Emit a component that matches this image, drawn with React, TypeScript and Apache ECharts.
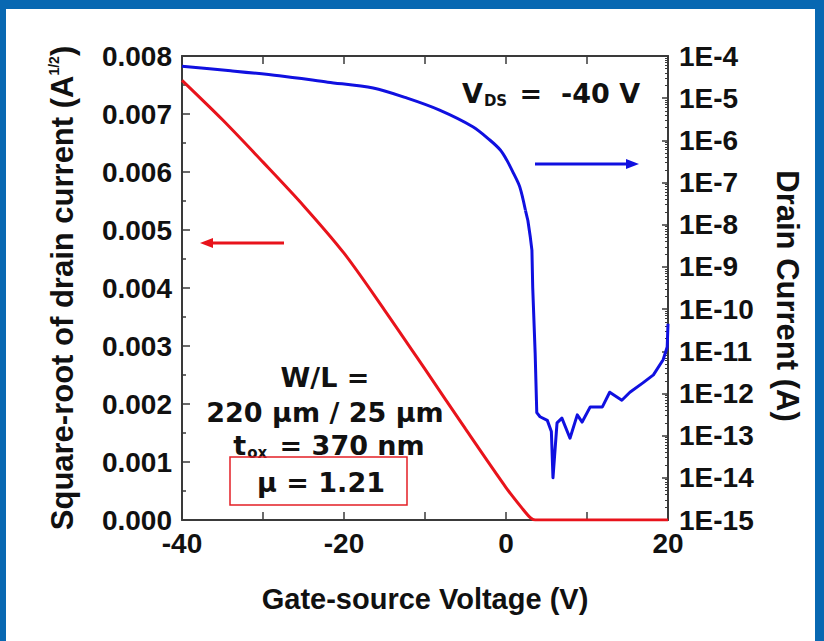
import React, { useEffect, useRef } from "react";
import * as echarts from "echarts";

// Gate-source voltage (V) and sqrt(drain current) (A^1/2) – red, left axis
const redVg = [-40, -35, -30, -25, -20, -15, -10, -5, 0, 2, 3, 3.6, 10, 20];
const redSqrtId = [0.00758, 0.0069, 0.00617, 0.00542, 0.0046, 0.00362, 0.0026, 0.00157, 0.00056, 0.0002, 0.00004, 0, 0, 0];

// Gate-source voltage (V) and drain current (A) – blue, right log axis
const blueVg = [-40, -34, -28, -22, -16.4, -12.2, -8.2, -4.1, -2.0, -0.7, 0.1, 0.9, 1.7, 2.4, 2.7, 3.0, 3.2, 3.3, 3.6, 3.8, 4.2, 5.1, 5.6, 5.8, 6.3, 6.9, 7.9, 8.8, 9.4, 10.4, 11.9, 12.8, 14.3, 15.3, 16.9, 18.2, 19.4, 19.9, 20];
const blueId = [5.75e-5, 4.47e-5, 3.39e-5, 2.4e-5, 1.74e-5, 1.0e-5, 5.2e-6, 2.1e-6, 1.02e-6, 5.9e-7, 3.4e-7, 1.7e-7, 7.9e-8, 2.2e-8, 1.26e-8, 5.1e-9, 2.5e-9, 3.2e-10, 8.9e-12, 3.5e-13, 2.8e-13, 2.3e-13, 1.25e-13, 1.0e-14, 2.0e-13, 2.6e-13, 8.7e-14, 3.1e-13, 2.1e-13, 4.8e-13, 4.8e-13, 1.07e-12, 6.9e-13, 1.07e-12, 1.78e-12, 2.75e-12, 6.3e-12, 1.26e-11, 4.5e-11];
// index where the smooth on-state part ends and the noisy off-state part begins
const blueSplit = 13;

// Axis ranges / tick labels
const xMin = -40, xMax = 20, xStep = 10;
const leftMax = 0.008, leftStep = 0.001;
const logMin = 1e-15, logMax = 1e-4;

const AXIS_FONT = "'Liberation Sans', Arial, sans-serif";
const NOTE_FONT = "'DejaVu Sans', Verdana, sans-serif";
const AXIS_COLOR = "#3a3a3a";
const TEXT = "#111111";
const RED = "#E8131B";
const BLUE = "#1010E0";

export default function App() {
  const ref = useRef<HTMLDivElement>(null);
  useEffect(() => {
    if (!ref.current) return;
    const chart = echarts.init(ref.current, null, { renderer: "svg" });
    const red = redVg.map((v, i) => [v, redSqrtId[i]]);
    const blue = blueVg.map((v, i) => [v, blueId[i]]);
    const blueOn = blue.slice(0, blueSplit + 1);
    const blueOff = blue.slice(blueSplit);
    const axisLine = { show: true, onZero: false, lineStyle: { color: AXIS_COLOR, width: 2 } };
    const tickStyle = { color: AXIS_COLOR, width: 1.5 };
    const labelStyle = { fontSize: 28, fontWeight: "bold", color: TEXT, fontFamily: AXIS_FONT };
    const noteN = { fontSize: 27, fontWeight: "bold", fontFamily: NOTE_FONT, fill: TEXT };
    const noteS = { fontSize: 15, fontWeight: "bold", fontFamily: NOTE_FONT, fill: TEXT, verticalAlign: "bottom", padding: [15, 3, 0, 1] };
    chart.setOption({
      animation: false,
      backgroundColor: "#ffffff",
      grid: { left: 182, right: 156, top: 56, bottom: 121, containLabel: false },
      xAxis: [
        {
          type: "value", min: xMin, max: xMax, interval: xStep, position: "bottom",
          axisLine, splitLine: { show: false },
          axisTick: { inside: true, length: 8, lineStyle: tickStyle },
          axisLabel: { ...labelStyle, formatter: (v: number) => (v % 20 === 0 ? String(v) : ""), margin: 9 },
          name: "Gate-source Voltage (V)", nameLocation: "middle", nameGap: 64,
          nameTextStyle: { fontSize: 29, fontWeight: "bold", color: TEXT, fontFamily: AXIS_FONT },
        },
        {
          type: "value", min: xMin, max: xMax, interval: xStep, position: "top",
          axisLine, splitLine: { show: false },
          axisTick: { inside: true, length: 8, lineStyle: tickStyle },
          axisLabel: { show: false },
        },
      ],
      yAxis: [
        {
          type: "value", min: 0, max: leftMax, interval: leftStep, position: "left",
          axisLine, splitLine: { show: false },
          axisTick: { inside: true, length: 8, lineStyle: tickStyle },
          minorTick: { show: true, splitNumber: 2, length: 4, lineStyle: tickStyle },
          axisLabel: { ...labelStyle, formatter: (v: number) => v.toFixed(3), margin: 10 },
          name: "Square-root of drain current (A{sup|1/2})",
          nameLocation: "middle", nameGap: 104,
          nameTextStyle: {
            fontSize: 31, fontWeight: "bold", color: TEXT, fontFamily: AXIS_FONT,
            rich: { sup: { fontSize: 14, fontWeight: "bold", color: TEXT, fontFamily: AXIS_FONT, verticalAlign: "top", padding: [0, 0, 16, 0] } },
          },
        },
        {
          type: "log", logBase: 10, min: logMin, max: logMax, interval: 1, splitNumber: 11, position: "right",
          axisLine, splitLine: { show: false },
          axisTick: { inside: true, length: 6, lineStyle: tickStyle },
          minorTick: { show: true, splitNumber: 9, length: 3, lineStyle: { color: AXIS_COLOR, width: 1 } },
          axisLabel: { ...labelStyle, formatter: (v: number) => "1E" + Math.round(Math.log10(v)), margin: 11 },
          name: "Drain Current (A)", nameLocation: "middle", nameGap: 104, nameRotate: -90,
          nameTextStyle: { fontSize: 31, fontWeight: "bold", color: TEXT, fontFamily: AXIS_FONT, padding: [0, 0, 0, 16] },
        },
      ],
      series: [
        {
          type: "line", name: "sqrt", xAxisIndex: 0, yAxisIndex: 0, data: red,
          showSymbol: false, smooth: 0.3, lineStyle: { color: RED, width: 3 }, z: 3,
        },
        {
          type: "line", name: "Id on", xAxisIndex: 0, yAxisIndex: 1, data: blueOn,
          showSymbol: false, smooth: 0.3, lineStyle: { color: BLUE, width: 3 }, z: 4,
        },
        {
          type: "line", name: "Id off", xAxisIndex: 0, yAxisIndex: 1, data: blueOff,
          showSymbol: false, smooth: false, lineStyle: { color: BLUE, width: 3, join: "round" }, z: 4,
        },
      ],
      graphic: [
        { type: "rect", shape: { x: 0, y: 0, width: 824, height: 9 }, style: { fill: "#0868B2" }, z: 100 },
        { type: "rect", shape: { x: 0, y: 0, width: 6, height: 641 }, style: { fill: "#0868B2" }, z: 100 },
        { type: "rect", shape: { x: 815, y: 0, width: 9, height: 641 }, style: { fill: "#0868B2" }, z: 100 },
        // red arrow (left)
        { type: "line", shape: { x1: 284, y1: 243, x2: 208, y2: 243 }, style: { stroke: RED, lineWidth: 3 }, z: 50 },
        { type: "polygon", shape: { points: [[200, 243], [213, 238], [213, 248]] }, style: { fill: RED }, z: 50 },
        // blue arrow (right)
        { type: "line", shape: { x1: 535, y1: 164, x2: 628, y2: 164 }, style: { stroke: BLUE, lineWidth: 3 }, z: 50 },
        { type: "polygon", shape: { points: [[639, 164], [626, 159], [626, 169]] }, style: { fill: BLUE }, z: 50 },
        {
          type: "text", x: 462, y: 93, z: 50,
          style: { text: "{n|V}{s|DS}{n| =  -40 V}", verticalAlign: "middle", align: "left", rich: { n: noteN, s: noteS } },
        },
        { type: "text", x: 325, y: 377, z: 50, style: { text: "W/L =", font: `bold 27px ${NOTE_FONT}`, fill: TEXT, align: "center", verticalAlign: "middle" } },
        { type: "text", x: 325, y: 412, z: 50, style: { text: "220 µm / 25 µm", font: `bold 27px ${NOTE_FONT}`, fill: TEXT, align: "center", verticalAlign: "middle" } },
        {
          type: "text", x: 329, y: 445, z: 50,
          style: { text: "{n|t}{s|ox}{n| = 370 nm}", align: "center", verticalAlign: "middle", rich: { n: noteN, s: noteS } },
        },
        { type: "text", x: 321, y: 482, z: 50, style: { text: "µ = 1.21", font: `bold 27px ${NOTE_FONT}`, fill: TEXT, align: "center", verticalAlign: "middle" } },
        { type: "rect", shape: { x: 230, y: 457, width: 177, height: 48 }, style: { fill: "none", stroke: "#E41F26", lineWidth: 1.5 }, z: 50 },
      ],
    });
    return () => chart.dispose();
  }, []);
  return (
    <div
      ref={ref}
      style={{ position: "fixed", left: 0, top: 0, width: 824, height: 641, background: "#fff" }}
    />
  );
}
